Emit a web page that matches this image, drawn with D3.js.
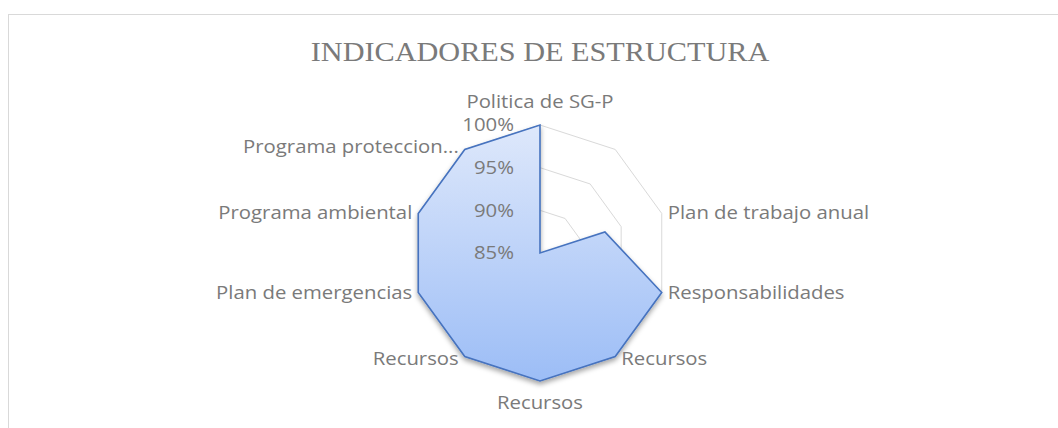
<!DOCTYPE html>
<html>
<head>
<meta charset="utf-8">
<script src="https://cdn.jsdelivr.net/npm/d3@7"></script>
<style>
  html, body { margin: 0; padding: 0; background: #fff; }
  svg { display: block; }
</style>
</head>
<body>
<div id="chart"></div>
<script>
// ---- data ----
const title = "INDICADORES DE ESTRUCTURA";
const categories = [
  "Politica de SG-P",
  "",
  "Plan de trabajo anual",
  "Responsabilidades",
  "Recursos",
  "Recursos",
  "Recursos",
  "Plan de emergencias",
  "Programa ambiental",
  "Programa proteccion..."
];
const values = [1.00, 0.85, 0.93, 1.00, 1.00, 1.00, 1.00, 1.00, 1.00, 1.00];
const tickValues = [0.85, 0.90, 0.95, 1.00];
const tickLabels = ["85%", "90%", "95%", "100%"];

// ---- layout ----
const W = 1058, H = 428;
const cx = 540, cy = 253, R = 128;
const labelFont = "'Open Sans', sans-serif";
const labelSize = 18;
const stretch = 1.13;

const svg = d3.select("#chart").append("svg")
  .attr("width", W).attr("height", H);

const defs = svg.append("defs");
const grad = defs.append("linearGradient")
  .attr("id", "fillGrad").attr("x1", 0).attr("y1", 0).attr("x2", 0).attr("y2", 1);
grad.append("stop").attr("offset", "0%").attr("stop-color", "#dee8fb");
grad.append("stop").attr("offset", "100%").attr("stop-color", "#9cbdf6");

const filt = defs.append("filter").attr("id", "shadow")
  .attr("x", "-20%").attr("y", "-20%").attr("width", "140%").attr("height", "140%");
filt.append("feDropShadow").attr("dx", 0).attr("dy", 3).attr("stdDeviation", 2.5)
  .attr("flood-color", "#000").attr("flood-opacity", 0.35);

// chart frame
svg.append("rect")
  .attr("x", 8.5).attr("y", 14.5).attr("width", W + 20).attr("height", H + 20)
  .attr("fill", "#fff").attr("stroke", "#d9d9d9").attr("stroke-width", 1);

// title
svg.append("text")
  .attr("transform", `translate(${cx},61) scale(1.1,1)`)
  .attr("text-anchor", "middle")
  .attr("font-family", "'Liberation Serif', 'Times New Roman', serif")
  .attr("font-size", 27.5)
  .attr("fill", "#7a7a7a")
  .text(title);

const n = categories.length;
const angle = d3.scaleLinear().domain([0, n]).range([0, 2 * Math.PI]);
const r = d3.scaleLinear().domain([0.85, 1.0]).range([0, R]).clamp(true);

const lineGen = d3.lineRadial()
  .angle((d, i) => angle(i))
  .radius(d => r(d))
  .curve(d3.curveLinearClosed);

const g = svg.append("g").attr("transform", `translate(${cx},${cy})`);

// grid rings
g.selectAll("path.ring")
  .data(tickValues.filter(t => t > 0.85))
  .join("path")
  .attr("class", "ring")
  .attr("d", t => lineGen(d3.range(n).map(() => t)))
  .attr("fill", "none")
  .attr("stroke", "#d9d9d9")
  .attr("stroke-width", 1);

// series
g.append("path")
  .datum(values)
  .attr("d", lineGen)
  .attr("fill", "url(#fillGrad)")
  .attr("stroke", "#4673bf")
  .attr("stroke-width", 1.6)
  .attr("stroke-linejoin", "miter")
  .attr("filter", "url(#shadow)");

// tick labels
g.selectAll("text.tick")
  .data(tickValues)
  .join("text")
  .attr("class", "tick")
  .attr("transform", t => `translate(-26,${-r(t)}) scale(${stretch},1)`)
  .attr("dy", "0.36em")
  .attr("text-anchor", "end")
  .attr("font-family", labelFont)
  .attr("font-size", labelSize)
  .attr("fill", "#7a7a7a")
  .text((t, i) => tickLabels[i]);

// category labels
g.selectAll("text.cat")
  .data(categories.map((c, i) => ({ c, i })))
  .join("text")
  .attr("class", "cat")
  .attr("transform", d => {
    const a = angle(d.i);
    const s = Math.sin(a), c = Math.cos(a);
    const x = R * s, y = -R * c;
    let lx = x, ly;
    if (Math.abs(s) < 0.1) {
      ly = c > 0 ? y - 17 : y + 28;
    } else {
      lx = s > 0 ? x + 6 : x - 6;
      ly = y + 6 - 3 * c;
    }
    return `translate(${lx},${ly}) scale(${stretch},1)`;
  })
  .attr("text-anchor", d => {
    const s = Math.sin(angle(d.i));
    return Math.abs(s) < 0.1 ? "middle" : (s > 0 ? "start" : "end");
  })
  .attr("font-family", labelFont)
  .attr("font-size", labelSize)
  .attr("fill", "#7a7a7a")
  .text(d => d.c);
</script>
</body>
</html>
